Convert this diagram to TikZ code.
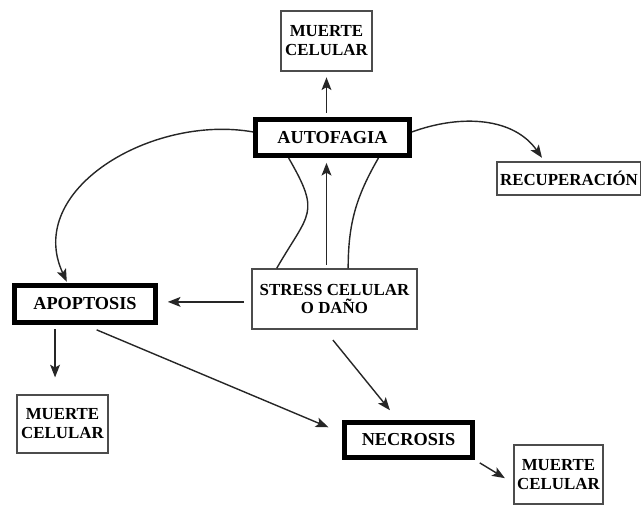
\documentclass[tikz,border=0pt]{standalone}
\usepackage{fontspec}
\setmainfont{Liberation Serif}
\usetikzlibrary{arrows.meta}

\begin{document}
\begin{tikzpicture}[x=0.025cm,y=0.025cm,
  caja/.style={draw=black!70,line width=1pt,inner sep=0pt,align=center,
    font=\bfseries\fontsize{12}{13.5}\selectfont},
  fase/.style={draw,line width=3.5pt,inner sep=0pt,
    font=\bfseries\fontsize{13}{15}\selectfont},
  flecha/.style={-{Stealth[length=9pt,width=7pt,inset=2pt]},line width=1pt,black!85},
  lazo/.style={line width=1pt,black!85}]
  \useasboundingbox (0,0) rectangle (641,505);
  \node[caja,minimum width=2.275cm,minimum height=1.5cm] (muerteA) at (326.5,464) {MUERTE\\CELULAR};
  \node[fase,minimum width=3.85cm,minimum height=0.9cm] (autofagia) at (332.5,367.5) {AUTOFAGIA};
  \node[caja,minimum width=3.6cm,minimum height=0.825cm] (recup) at (569,326.5) {RECUPERACIÓN};
  \node[fase,minimum width=3.525cm,minimum height=0.925cm] (apoptosis) at (85,201) {APOPTOSIS};
  \node[caja,minimum width=4.125cm,minimum height=1.5cm] (stress) at (334.5,206) {STRESS CELULAR\\O DAÑO};
  \node[caja,minimum width=2.275cm,minimum height=1.45cm] (muerteB) at (62.5,81) {MUERTE\\CELULAR};
  \node[fase,minimum width=3.2cm,minimum height=0.875cm] (necrosis) at (408.5,65) {NECROSIS};
  \node[caja,minimum width=2.225cm,minimum height=1.475cm] (muerteC) at (558.5,30.5) {MUERTE\\CELULAR};
  % autofagia
  \draw[flecha,shorten <=3pt,shorten >=4pt] (muerteA.south |- autofagia.north) -- (muerteA.south);
  \draw[flecha,shorten >=3pt] (autofagia.4) to[out=20,in=125] (recup.145);
  \draw[flecha,shorten >=1pt] (autofagia.176) to[out=170,in=115,looseness=1.1] (apoptosis.130);
  \draw[lazo] (autofagia.205) to[out=-60,in=60,looseness=1.5] (stress.152);
  \draw[lazo] (autofagia.336) to[out=-120,in=90] (stress.66);
  % stress
  \draw[flecha,shorten <=2.5pt,shorten >=3.5pt] (muerteA.south |- stress.north) -- (muerteA.south |- autofagia.south);
  \draw[flecha,shorten <=5pt,shorten >=7pt] (stress.182) -- (apoptosis.east |- stress.182);
  \draw[flecha,shorten <=9.5pt,shorten >=9pt] (stress.252) -- (necrosis.118);
  % apoptosis y necrosis
  \draw[flecha,shorten <=3pt,shorten >=12pt] (apoptosis.215) -- (apoptosis.215 |- muerteB.north);
  \draw[flecha,shorten <=9pt,shorten >=10.5pt] (apoptosis.south) -- (necrosis.174);
  \draw[flecha,shorten <=4pt,shorten >=7pt] (necrosis.south east) -- (muerteC.191);
\end{tikzpicture}
\end{document}
